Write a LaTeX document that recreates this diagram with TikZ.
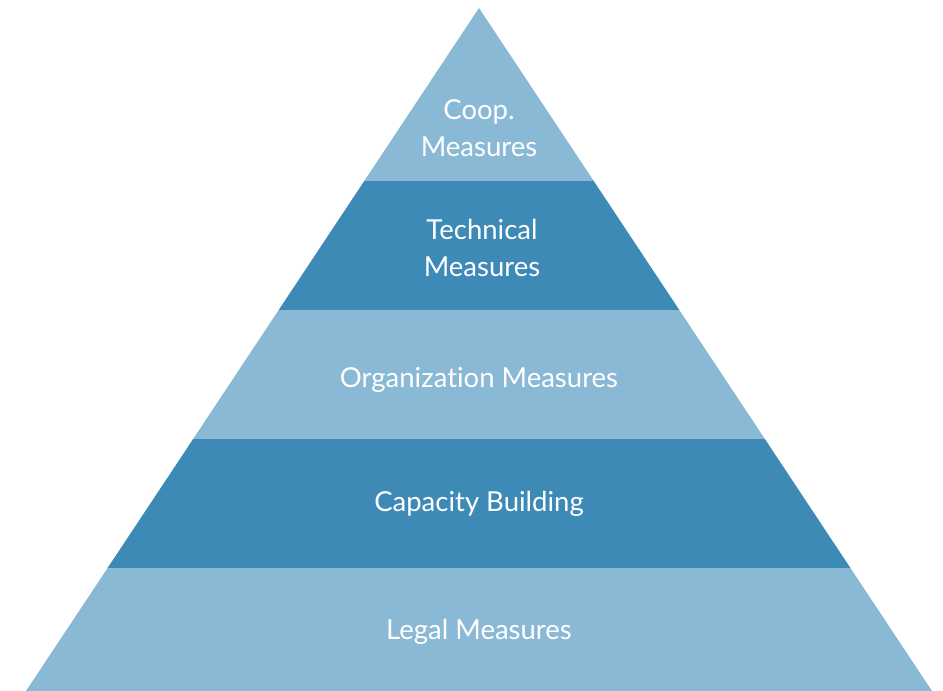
\documentclass[tikz,border=0pt]{standalone}
\usepackage{fontspec}
\setmainfont[Ligatures={NoCommon,NoRare}]{Lato}
\definecolor{lightband}{RGB}{138,185,214}
\definecolor{darkband}{RGB}{62,138,183}
\tikzset{
  bandlabel/.style={text=white, align=center, font=\fontsize{27.5}{37}\selectfont, inner sep=0pt}
}
\begin{document}
\begin{tikzpicture}[x=1pt,y=1pt]
\useasboundingbox (0,0) rectangle (943,691);
\begin{scope}
\clip (479,683) -- (932,0) -- (26,0) -- cycle;
\fill[lightband] (0,510) rectangle (943,691);
\fill[darkband]  (0,381) rectangle (943,510);
\fill[lightband] (0,252) rectangle (943,381);
\fill[darkband]  (0,123) rectangle (943,252);
\fill[lightband] (0,-10) rectangle (943,123);
\end{scope}
\node[bandlabel] (coop) at (479,563) {Coop.\\Measures};
\node[bandlabel] (tech) at (482,443) {Technical\\Measures};
\node[bandlabel] (org)  at (479,311) {Organization Measures};
\node[bandlabel] (cap)  at (479,187) {Capacity Building};
\node[bandlabel] (legal) at (479,59) {Legal Measures};
\end{tikzpicture}
\end{document}
